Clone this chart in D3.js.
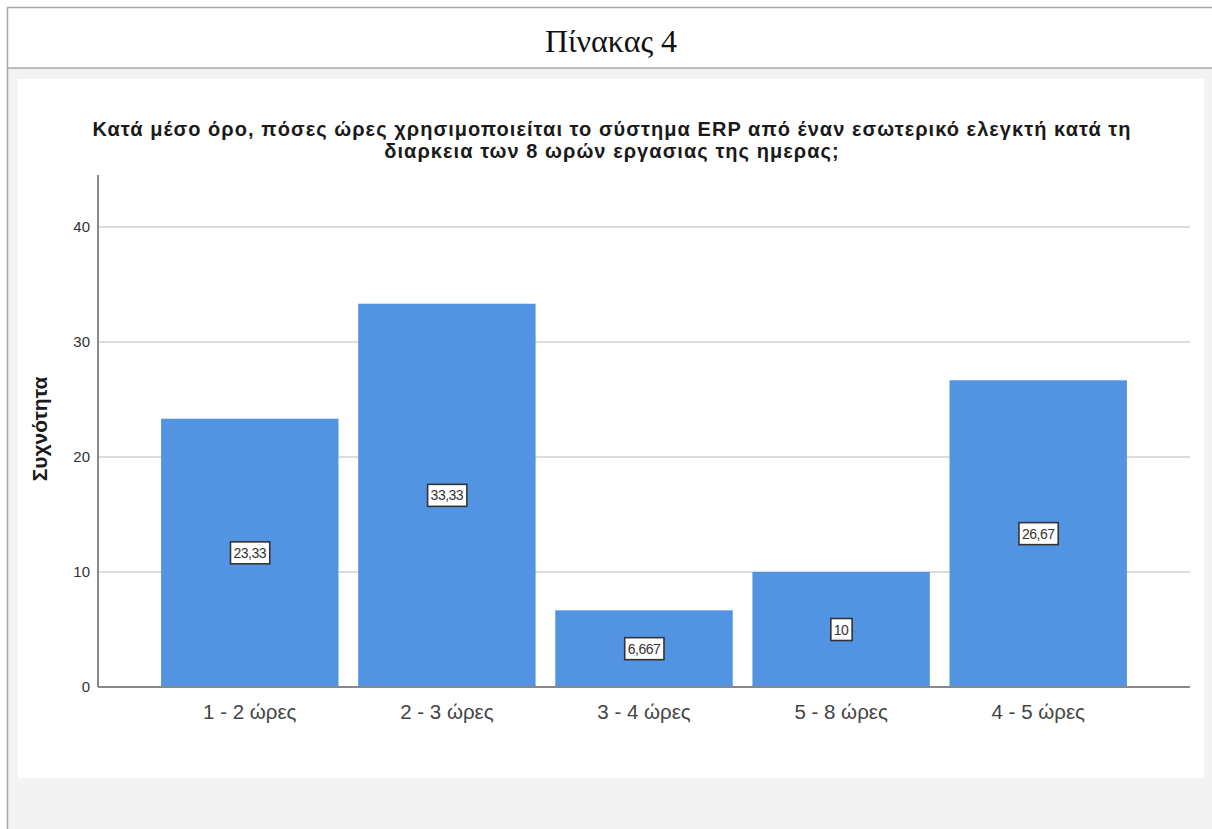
<!DOCTYPE html>
<html>
<head>
<meta charset="utf-8">
<script src="https://cdn.jsdelivr.net/npm/d3@7"></script>
<style>
  html, body { margin: 0; padding: 0; background: #ffffff; }
  svg { display: block; }
</style>
</head>
<body>
<svg id="chart" width="1212" height="829"></svg>
<script>
// Frequencies of ERP usage per 8-hour working day
const categories = ["1 - 2 ώρες", "2 - 3 ώρες", "3 - 4 ώρες", "5 - 8 ώρες", "4 - 5 ώρες"];
const values = [23.33, 33.33, 6.667, 10, 26.67];
const valueLabels = ["23,33", "33,33", "6,667", "10", "26,67"];
const yTicks = [0, 10, 20, 30, 40];
const titleLines = [
  "Κατά μέσο όρο, πόσες ώρες χρησιμοποιείται το σύστημα ERP από έναν εσωτερικό ελεγκτή κατά τη",
  "διαρκεια των 8 ωρών εργασιας της ημερας;"
];
const tableCaption = "Πίνακας 4";
const yAxisTitle = "Συχνότητα";

const svg = d3.select("#chart");
const W = 1212, H = 829;

// Table-like frame: caption row and grey body
svg.append("rect").attr("x", 7).attr("y", 68).attr("width", W - 7).attr("height", H - 68).attr("fill", "#f3f3f3");
svg.append("line").attr("x1", 7).attr("x2", W).attr("y1", 7.5).attr("y2", 7.5).attr("stroke", "#a8a8a8").attr("stroke-width", 1.5);
svg.append("line").attr("x1", 7).attr("x2", W).attr("y1", 68).attr("y2", 68).attr("stroke", "#a8a8a8").attr("stroke-width", 1.5);
svg.append("line").attr("x1", 7.5).attr("x2", 7.5).attr("y1", 7).attr("y2", H).attr("stroke", "#a8a8a8").attr("stroke-width", 1.5);
svg.append("text").attr("x", 611).attr("y", 52).attr("text-anchor", "middle")
  .attr("font-family", "'Liberation Serif', 'DejaVu Serif', serif").attr("font-size", 32).attr("fill", "#111")
  .text(tableCaption);

// White chart panel
svg.append("rect").attr("x", 18).attr("y", 79).attr("width", 1186).attr("height", 699).attr("fill", "#ffffff");

// Scales
const x0 = 98, x1 = 1190, yBase = 687, yTop40 = 227;
const x = d3.scaleBand().domain(categories).range([x0, x1]).paddingInner(0.1).paddingOuter(0.32);
const y = d3.scaleLinear().domain([0, 40]).range([yBase, yTop40]);

// Title (two centred lines)
titleLines.forEach((t, i) => {
  svg.append("text").attr("text-anchor", "middle")
    .attr("x", 612).attr("y", 136 + i * 22)
    .attr("font-family", "'Liberation Sans', Arial, sans-serif").attr("font-weight", "bold")
    .attr("font-size", 20).attr("letter-spacing", 1.05).attr("fill", "#1a1a1a")
    .text(t);
});

// Gridlines
const g = svg.append("g");
g.selectAll("line.grid").data(yTicks.filter(d => d > 0)).join("line")
  .attr("class", "grid")
  .attr("x1", x0).attr("x2", x1)
  .attr("y1", d => y(d)).attr("y2", d => y(d))
  .attr("stroke", "#dcdcdc").attr("stroke-width", 2);

// Bars
g.selectAll("rect.bar").data(values).join("rect")
  .attr("class", "bar")
  .attr("x", (d, i) => x(categories[i]))
  .attr("width", x.bandwidth())
  .attr("y", d => y(d))
  .attr("height", d => yBase - y(d))
  .attr("fill", "#5294e2");

// Y axis
const yAxis = svg.append("g").attr("transform", `translate(${x0},0)`)
  .call(d3.axisLeft(y).tickValues(yTicks).tickSize(0).tickPadding(8).tickFormat(d3.format("d")));
yAxis.select(".domain").remove();
yAxis.selectAll("text").attr("font-family", "'Liberation Sans', Arial, sans-serif")
  .attr("font-size", 15).attr("fill", "#333");
svg.append("line").attr("x1", x0).attr("x2", x0).attr("y1", 175).attr("y2", yBase)
  .attr("stroke", "#888").attr("stroke-width", 2);

// X axis
const xAxis = svg.append("g").attr("transform", `translate(0,${yBase})`)
  .call(d3.axisBottom(x).tickSize(0).tickPadding(17));
xAxis.select(".domain").remove();
xAxis.selectAll("text").attr("font-family", "'Liberation Sans', Arial, sans-serif")
  .attr("font-size", 20.5).attr("fill", "#444");
svg.append("line").attr("x1", x0).attr("x2", x1).attr("y1", yBase).attr("y2", yBase)
  .attr("stroke", "#888").attr("stroke-width", 2);

// Axis title
svg.append("text")
  .attr("transform", `translate(47,${(175 + yBase) / 2 - 2}) rotate(-90)`)
  .attr("text-anchor", "middle")
  .attr("font-family", "'Liberation Sans', Arial, sans-serif").attr("font-weight", "bold")
  .attr("font-size", 21).attr("fill", "#1a1a1a")
  .text(yAxisTitle);

// Value labels in boxes at half bar height
const lab = svg.append("g").selectAll("g").data(values).join("g")
  .attr("transform", (d, i) => `translate(${x(categories[i]) + x.bandwidth() / 2},${y(d / 2)})`);
lab.each(function(d, i) {
  const gg = d3.select(this);
  const t = gg.append("text").attr("text-anchor", "middle").attr("dy", "0.36em")
    .attr("font-family", "'Liberation Sans', Arial, sans-serif")
    .attr("font-size", 14).attr("letter-spacing", -0.5).attr("fill", "#333")
    .text(valueLabels[i]);
  const bb = t.node().getBBox();
  gg.insert("rect", "text")
    .attr("x", bb.x - 3).attr("y", -11)
    .attr("width", bb.width + 6).attr("height", 22)
    .attr("fill", "#ffffff").attr("stroke", "#333").attr("stroke-width", 1.6);
});
</script>
</body>
</html>
